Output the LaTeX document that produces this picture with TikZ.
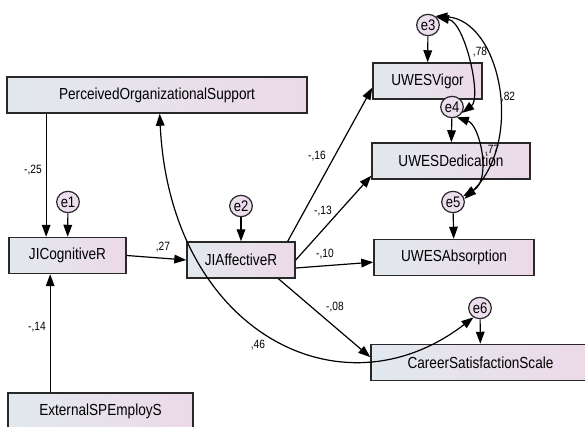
\documentclass[tikz,border=0pt]{standalone}
\usepackage{fontspec}
\newfontfamily\amosfont[FakeStretch=0.85]{Liberation Sans}
\usetikzlibrary{arrows.meta, positioning, shapes.geometric}

\definecolor{boxleft}{RGB}{226,233,238}
\definecolor{boxright}{RGB}{236,217,232}
\definecolor{errfill}{RGB}{236,222,236}
\definecolor{boxline}{RGB}{40,40,40}

\tikzset{
	var/.style={draw=boxline, line width=1.1pt, left color=boxleft, right color=boxright,
		minimum height=27pt, inner sep=0pt, font=\amosfont\fontsize{12}{14}\selectfont},
	err/.style={ellipse, draw=boxline, line width=0.9pt, fill=errfill, minimum width=17pt,
		minimum height=16pt, inner sep=0pt, font=\amosfont\fontsize{11.5}{13}\selectfont},
	reg/.style={-{Triangle[length=9pt,width=6.5pt]}, line width=0.9pt},
	cov/.style={{Triangle[length=9pt,width=6.5pt]}-{Triangle[length=9pt,width=6.5pt]}, line width=0.9pt},
	coef/.style={font=\amosfont\fontsize{9}{10}\selectfont, inner sep=1pt}
}

\begin{document}
\begin{tikzpicture}[x=0.75pt, y=-0.75pt]
			\clip (0,0) rectangle (585,427);
			
			% Observed variables
			\node[var, minimum width=225pt] (POS) at (157,95) {PerceivedOrganizationalSupport};
			\node[var, minimum width=87.75pt] (Cog) at (67.5,255.5) {JICognitiveR};
			\node[var, minimum width=81pt] (Aff) at (241,260) {JIAffectiveR};
			\node[var, minimum width=138.75pt] (Ext) at (100.5,411) {ExternalSPEmployS};
			\node[var, minimum width=81.75pt] (Vigor) at (427.5,81) {UWESVigor};
			\node[var, minimum width=118.5pt] (Ded) at (451,161) {UWESDedication};
			\node[var, minimum width=120pt] (Abs) at (454,257.5) {UWESAbsorption};
			\node[var, minimum width=164.25pt] (Car) at (480.5,362.5) {CareerSatisfactionScale};
			
			% Error terms
			\node[err] (e1) at (68,202) {e1};
			\node[err] (e2) at (241,206) {e2};
			\node[err] (e3) at (428,25) {e3};
			\node[err] (e4) at (452,107) {e4};
			\node[err] (e5) at (453,202) {e5};
			\node[err] (e6) at (480,308) {e6};
			
			\draw[reg] (e1) -- (Cog);
			\draw[reg] (e2) -- (Aff);
			\draw[reg] (e3) -- (Vigor);
			\draw[reg] (e4) -- (Ded);
			\draw[reg] (e5) -- (Abs);
			\draw[reg] (e6) -- (Car);
			
			% Paths into JICognitiveR
			\coordinate (poscog) at ([xshift=-16pt]Cog.north);
			\coordinate (extcog) at ([xshift=-13pt]Cog.south);
			\draw[reg] (poscog |- POS.south) -- (poscog);
			\draw[reg] (extcog |- Ext.north) -- (extcog);
			\draw[reg] (Cog.east) -- (Aff.west);
			
			% Paths out of JIAffectiveR
			\draw[reg] ([xshift=-6pt]Aff.north east) -- ([yshift=-5pt]Vigor.west);
			\draw[reg] (Aff.east) -- ([yshift=3pt]Ded.south west);
			\draw[reg] ([yshift=-6pt]Aff.east) -- ([yshift=-3.5pt]Abs.west);
			\draw[reg] ([xshift=-13pt]Aff.south east) -- ([yshift=4pt]Car.west);
			
			% Covariances
			\draw[cov] ([xshift=2pt]POS.south) .. controls (170,330) and (340,420) .. (e6.-125);
			\draw[cov] (e3.40) .. controls (465,22) and (482,98) .. (e4.-30);
			\draw[cov] (e3.50) .. controls (500,20) and (525,140) .. (e5.15);
			\draw[cov] (e4.-65) .. controls (480,125) and (492,180) .. (e5.30);
			
			% Coefficients
			\node[coef] (c1) at (33,170) {-,25};
			\node[coef] (c2) at (37,327) {-,14};
			\node[coef] (c3) at (163,247) {,27};
			\node[coef] (c4) at (317,156) {-,16};
			\node[coef] (c5) at (323,211) {-,13};
			\node[coef] (c6) at (325,254) {-,10};
			\node[coef] (c7) at (335,307) {-,08};
			\node[coef] (c8) at (258,345) {,46};
			\node[coef] (c9) at (480,52) {,78};
			\node[coef] (c10) at (508,97) {,82};
			\node[coef] (c11) at (492,150) {,77};
	\end{tikzpicture}
\end{document}
